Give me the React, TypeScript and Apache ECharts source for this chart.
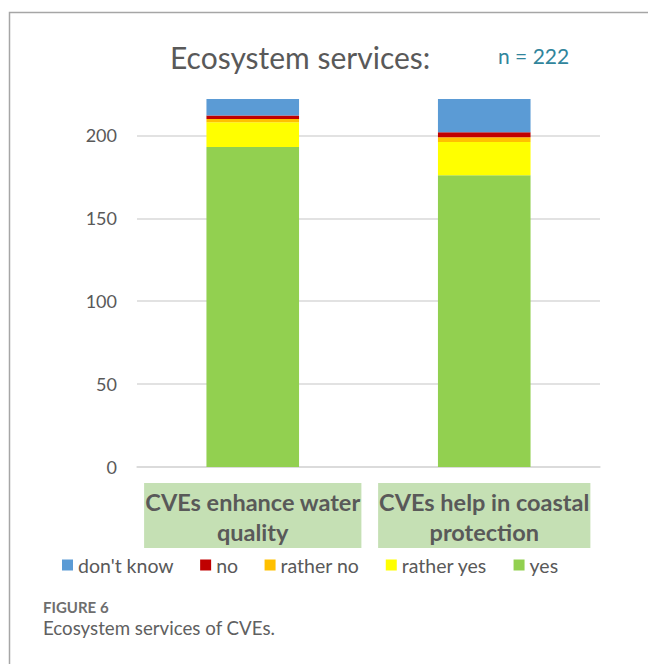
import React, { useEffect, useRef } from "react";
import * as echarts from "echarts";

const categories = ["CVEs enhance water\nquality", "CVEs help in coastal\nprotection"];
const seriesNames = ["yes", "rather yes", "rather no", "no", "don't know"];
const legendOrder = ["don't know", "no", "rather no", "rather yes", "yes"];
const yesValues = [193, 176];
const ratherYesValues = [15, 20];
const ratherNoValues = [2, 3];
const noValues = [2, 3];
const dontKnowValues = [10, 20];
const seriesColors = ["#92d050", "#ffff00", "#ffc000", "#c00000", "#5b9bd5"];
const yTicks = [0, 50, 100, 150, 200];
const sampleSize = 222;

const FONT = "Lato, 'Open Sans', sans-serif";

export default function App() {
  const ref = useRef<HTMLDivElement>(null);
  useEffect(() => {
    if (!ref.current) return;
    const chart = echarts.init(ref.current, undefined, { renderer: "svg" });
    const values = [yesValues, ratherYesValues, ratherNoValues, noValues, dontKnowValues];
    chart.setOption({
      animation: false,
      backgroundColor: "#ffffff",
      textStyle: { fontFamily: FONT },
      grid: { left: 137, right: 48, top: 99, bottom: 197 },
      legend: {
        data: legendOrder,
        left: 57,
        top: 550,
        icon: "rect",
        itemWidth: 11,
        itemHeight: 11,
        itemGap: 26.5,
        textStyle: { fontFamily: FONT, fontSize: 19.5, color: "#595959" },
        selectedMode: false,
      },
      xAxis: {
        type: "category",
        data: categories,
        axisTick: { show: false },
        axisLine: { show: true, lineStyle: { color: "#d9d9d9", width: 1.5 } },
        axisLabel: {
          margin: 16,
          fontFamily: FONT,
          fontWeight: "bold",
          fontSize: 23.5,
          color: "#595959",
          lineHeight: 30,
          backgroundColor: "#c5e0b4",
          padding: [4, 1, 1, 1],
          interval: 0,
        },
      },
      yAxis: {
        type: "value",
        min: yTicks[0],
        max: sampleSize,
        interval: yTicks[1] - yTicks[0],
        axisLine: { show: false },
        axisTick: { show: false },
        axisLabel: {
          margin: 20,
          fontFamily: FONT,
          fontSize: 18,
          color: "#595959",
          showMaxLabel: false,
        },
        splitLine: {
          show: true,
          showMaxLine: false,
          lineStyle: { color: "#d9d9d9", width: 1.5 },
        },
      },
      series: seriesNames.map((name, i) => ({
        name,
        type: "bar",
        stack: "total",
        barWidth: "40%",
        data: values[i],
        itemStyle: { color: seriesColors[i] },
      })),
      graphic: [
        {
          type: "polyline",
          shape: { points: [[9.5, 664], [9.5, 12.5], [648, 12.5]] },
          style: { stroke: "#a6a6a6", lineWidth: 1.5, fill: "none" },
          silent: true,
        },
        {
          type: "text",
          left: 170,
          top: 42,
          style: {
            text: "Ecosystem services:",
            font: `30px ${FONT}`,
            fill: "#595959",
          },
        },
        {
          type: "text",
          left: 498,
          top: 45,
          style: {
            text: `n = ${sampleSize}`,
            font: `21px ${FONT}`,
            fill: "#31859c",
          },
        },
        {
          type: "text",
          left: 43,
          top: 599,
          style: {
            text: "FIGURE 6",
            font: `bold 15px ${FONT}`,
            fill: "#6e6e6e",
          },
        },
        {
          type: "text",
          left: 43,
          top: 618,
          style: {
            text: "Ecosystem services of CVEs.",
            font: `18.7px ${FONT}`,
            fill: "#606060",
          },
        },
      ],
    });
    return () => chart.dispose();
  }, []);
  return (
    <div
      ref={ref}
      style={{ position: "fixed", left: 0, top: 0, width: 648, height: 664, background: "#fff" }}
    />
  );
}
